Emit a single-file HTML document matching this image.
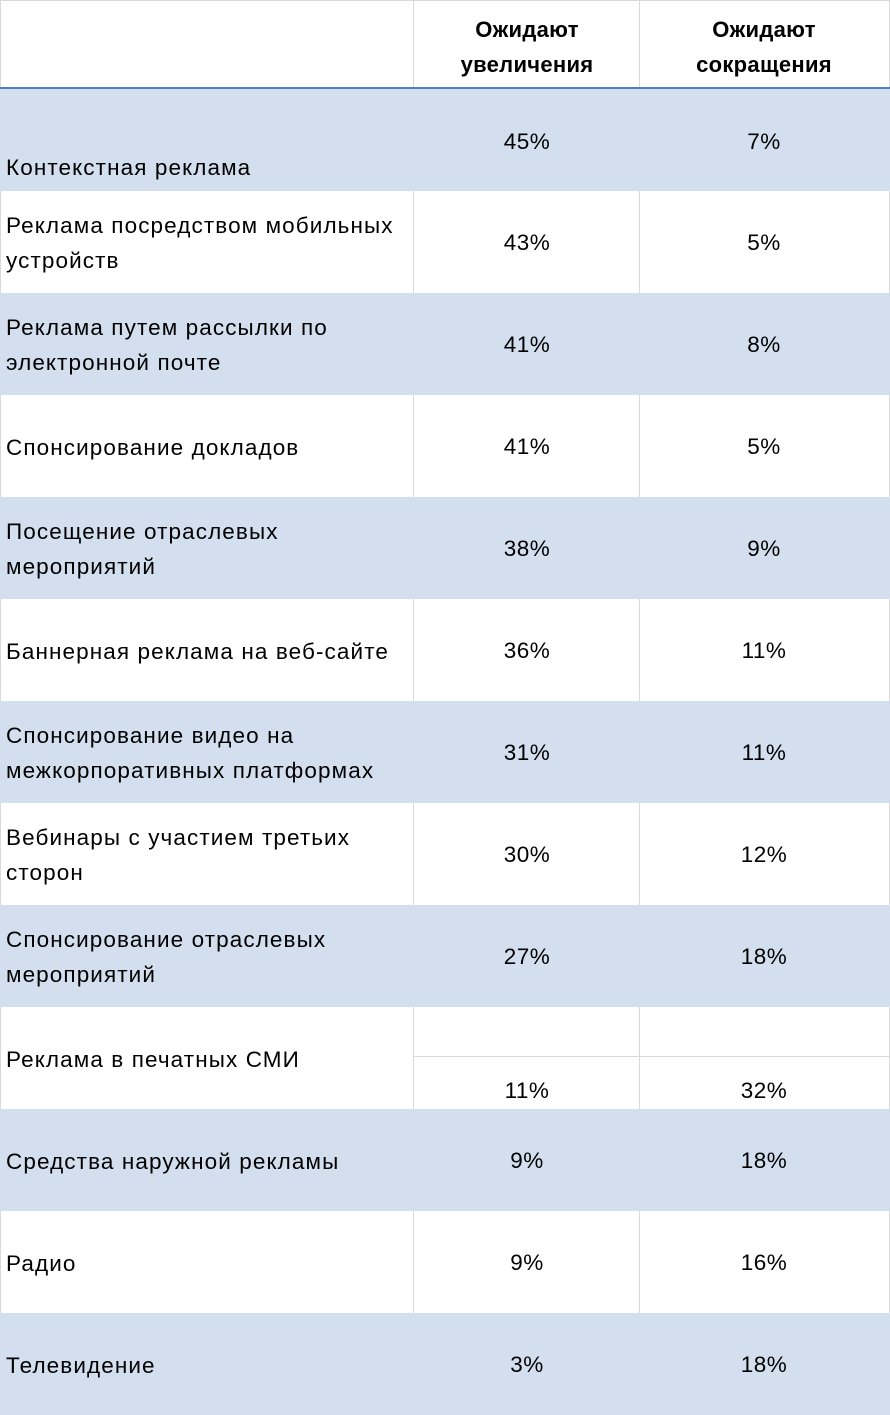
<!DOCTYPE html>
<html><head><meta charset="utf-8">
<style>
body{margin:0;background:#fff;width:890px;height:1402px;overflow:hidden;position:relative;font-family:"Liberation Sans","DejaVu Sans",sans-serif;color:#000}
.a{position:absolute;white-space:nowrap}
.row{position:absolute;left:0;width:890px;height:102px}
.sh{background:#d3dfee}
.vl{position:absolute;width:1px;background:#d9d9d9}
.hl{position:absolute;height:1px;background:#d9d9d9}
.lab{position:absolute;left:6px;font-size:22.5px;line-height:35px;letter-spacing:1.1px;white-space:nowrap}
.num{position:absolute;font-size:22.5px;line-height:24px;text-align:center;width:200px;letter-spacing:0.5px}
.h{position:absolute;font-size:22px;font-weight:bold;line-height:35px;text-align:center;width:226px;letter-spacing:0.3px}
</style></head><body>
<div id="t">
<div class="hl" style="left:0;top:0;width:890px"></div>
<div class="vl" style="left:0;top:0;height:1402px"></div>
<div class="vl" style="left:889px;top:0;height:1402px"></div>
<div class="vl" style="left:413px;top:0;height:88px"></div>
<div class="vl" style="left:639px;top:0;height:88px"></div>
<div class="h" style="left:414px;top:12px">Ожидают<br>увеличения</div>
<div class="h" style="left:651px;top:12px">Ожидают<br>сокращения</div>
<div class="a" style="left:0;top:87px;width:890px;height:2px;background:#4f81bd"></div>
</div>
<script>
const labels=[["Контекстная реклама"],["Реклама посредством мобильных","устройств"],["Реклама путем рассылки по","электронной почте"],["Спонсирование докладов"],["Посещение отраслевых","мероприятий"],["Баннерная реклама на веб-сайте"],["Спонсирование видео на","межкорпоративных платформах"],["Вебинары с участием третьих","сторон"],["Спонсирование отраслевых","мероприятий"],["Реклама в печатных СМИ"],["Средства наружной рекламы"],["Радио"],["Телевидение"]];
const increase=[45,43,41,41,38,36,31,30,27,11,9,9,3];
const decrease=[7,5,8,5,9,11,11,12,18,32,18,16,18];
const t=document.getElementById('t');
labels.forEach((lab,i)=>{
  const top=89+i*102;
  const r=document.createElement('div');
  
  
  r.className='row'+(i%2===0?' sh':'');
  r.style.top=top+'px';
  t.appendChild(r);
  if(i%2===1){
    [0,413,639,889].forEach(x=>{const v=document.createElement('div');v.className='vl';v.style.left=x+'px';v.style.top='0px';v.style.height='102px';
    
    
    r.appendChild(v);});
  }
  if(i===9){
    const h=document.createElement('div');h.className='hl';h.style.left='413px';h.style.width='477px';h.style.top='49px';
    
    
    r.appendChild(h);
  }
  const l=document.createElement('div');
  
  
  l.className='lab';
  l.innerHTML=lab.join('<br>');
  let ly=(102-35*lab.length)/2+1;
  if(i===0) ly=61;
  l.style.top=ly+'px';
  r.appendChild(l);
  const ny=(i===9)?84:(i===0?53:52);
  [[increase[i],427,'value-increase'],[decrease[i],664,'value-decrease']].forEach(([v,x,n])=>{
    const d=document.createElement('div');
    
    
    d.className='num';d.style.left=x+'px';d.style.top=(ny-12)+'px';d.textContent=v+'%';r.appendChild(d);
  });
});
</script>
</body></html>
